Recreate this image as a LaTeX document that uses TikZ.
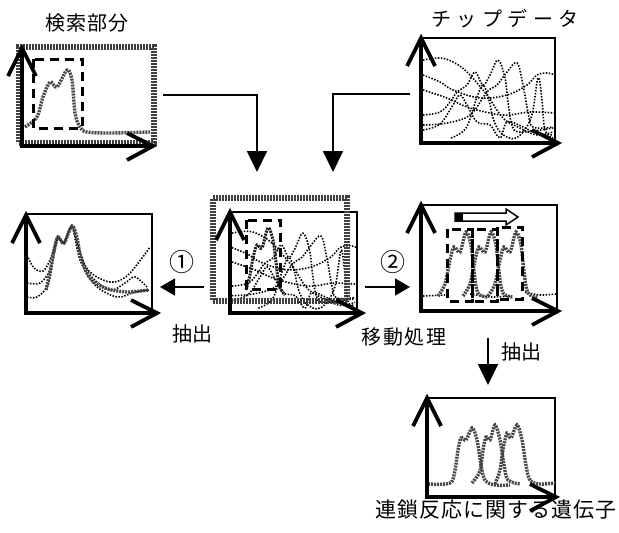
\documentclass[tikz,border=0pt]{standalone}
\usepackage{fontspec}
\setmainfont{Noto Sans CJK JP}
\usetikzlibrary{arrows.meta}
\tikzset{
 frame/.style={draw=black, line width=2.2pt, inner sep=0pt, outer sep=0pt},
 grayframe/.style={draw=black!75, line width=6pt, dash pattern=on 2pt off 1pt, inner sep=0pt, outer sep=0pt},
 axisline/.style={line width=3.8pt, black},
 thickcurve/.style={draw=black!72, line width=3.4pt, dash pattern=on 2pt off 1pt},
 darkcurve/.style={draw=black!90, line width=3pt, dash pattern=on 2pt off 1pt},
 thindot/.style={draw=black, line width=1.6pt, dash pattern=on 1.5pt off 1.5pt},
 dashbox/.style={draw=black, line width=3pt, dash pattern=on 9pt off 6pt},
 conn/.style={draw=black, line width=1.8pt, -{Triangle[length=21pt,width=20pt]}},
 conns/.style={draw=black, line width=1.8pt, -{Triangle[length=15pt,width=17pt]}},
 lbl/.style={inner sep=0pt, font=\fontsize{20}{24}\selectfont},
 circ/.style={inner sep=0pt, font=\fontsize{25}{28}\selectfont},
}
\newcommand\axesxy[4]{%
 \draw[axisline] (#1,#3)--(#1,#2)--(#4,#2);
 \draw[axisline] (#1-14,#3+28)--(#1,#3)--(#1+14,#3+28);
 \draw[axisline] (#4-26,#2-13)--(#4,#2)--(#4-26,#2+14);}
\newcommand\chipcurves{%
 \draw[thindot] plot[smooth,tension=0.6] coordinates {(2,22)(19,20)(32,24)(46,34)(66,57)(82,80)(99,90)(116,97)(132,94)};
 \draw[thindot] plot[smooth,tension=0.6] coordinates {(2,37)(19,44)(32,52)(59,60)(86,57)(106,47)(116,37)(126,35)(134,37)};
 \draw[thindot] plot[smooth,tension=0.6] coordinates {(2,52)(26,60)(49,70)(82,77)(109,74)(134,75)};
 \draw[thindot] plot[smooth,tension=0.6] coordinates {(2,77)(19,74)(29,64)(36,54)(46,47)(54,34)(62,47)(69,37)(77,22)(84,40)(87,64)(91,87)(99,94)(132,90)};
 \draw[thindot] plot[smooth,tension=0.6] coordinates {(2,87)(26,85)(49,77)(66,54)(76,47)(86,34)(96,25)(102,47)(107,74)(112,89)(132,89)};
 \draw[thindot] plot[smooth,tension=0.6] coordinates {(2,92)(19,86)(32,67)(39,57)(46,67)(56,84)(69,87)(79,100)(86,84)(100,88)(115,95)(132,97)};
 \draw[thindot] plot[smooth,tension=0.6] coordinates {(30,100)(45,90)(55,62)(62,47)(68,62)(72,80)(80,95)(95,100)(110,80)(117,40)(121,62)(124,92)(132,100)};
}
\begin{document}
\begin{tikzpicture}[x=1pt,y=-1pt]
\useasboundingbox (0,0) rectangle (619,533);

% ---------- panel 1: search part ----------
\node[grayframe, minimum width=135pt, minimum height=96pt] (p1) at (86.5,95) {};
\draw[thickcurve] plot[smooth,tension=0.55] coordinates {(25,127)(37,117)(43,97)(50,82)(57,87)(67,70)(72,80)(75,113)(80,127)(87,132)(110,133)(150,132)};
\draw[dashbox] (33,59) rectangle (82,128);
\axesxy{22}{146}{48}{153}
\node[lbl] (l1) at (87,23) {\addfontfeature{LetterSpace=4}検索部分};

% ---------- panel 2: chip data ----------
\node[frame, minimum width=134pt, minimum height=105pt] (p2) at (488,90.5) {};
\begin{scope}[shift={(421,38)}]
 \chipcurves
\end{scope}
\axesxy{421}{143}{38}{558}
\node[lbl] (l2) at (505,19) {\addfontfeature{LetterSpace=28}チップデータ};

% ---------- panel 3: center ----------
\node[frame, minimum width=127pt, minimum height=101pt] (p3) at (293.5,262.5) {};
\begin{scope}[shift={(230,212)}, xscale=0.948, yscale=0.962]
 \chipcurves
\end{scope}
\draw[darkcurve] plot[smooth,tension=0.55] coordinates {(246,290)(250,275)(253,258)(257,245)(262,248)(268,228)(273,240)(276,262)(279,285)(285,295)};
\draw[dashbox] (246,220) rectangle (280,289);
\node[grayframe, minimum width=134pt, minimum height=103pt] (p3g) at (280,249.5) {};
\axesxy{230}{313}{212}{362}

% ---------- panel 4: left extraction ----------
\node[frame, minimum width=126pt, minimum height=99pt] (p4) at (89,263.5) {};
\draw[thindot] plot[smooth,tension=0.55] coordinates {(27,255)(34,268)(43,271)(50,260)(55,245)(58,237)(64,243)(72,226)(78,245)(88,270)(110,282)(128,275)(150,247)};
\draw[thindot] plot[smooth,tension=0.55] coordinates {(27,283)(40,283)(50,270)(56,245)(58,237)(64,243)(72,226)(78,250)(90,275)(110,290)(125,283)(135,277)(147,287)};
\draw[thindot] plot[smooth,tension=0.55] coordinates {(27,297)(37,297)(48,285)(54,255)(58,238)(64,243)(72,227)(80,260)(95,285)(117,297)(135,292)(150,290)};
\draw[thickcurve] plot[smooth,tension=0.55] coordinates {(46,290)(50,272)(54,250)(58,237)(64,243)(72,226)(77,238)(81,258)(90,278)(105,288)(127,292)(148,290)};
\axesxy{26}{313}{215}{157}

% ---------- panel 5: shifted ----------
\node[frame, minimum width=136pt, minimum height=106pt] (p5) at (489,258) {};
\draw[thindot] (423,296) -- (445,295);
\draw[thindot] plot[smooth,tension=0.55] coordinates {(470,294)(490,297)(510,296)};
\draw[thindot] plot[smooth,tension=0.55] coordinates {(525,292)(540,295)(556,294)};
\foreach \dx in {420,445,470}{
 \draw[thickcurve] plot[smooth,tension=0.55] coordinates {(\dx+18,296)(\dx+25,284)(\dx+30,260)(\dx+34,247)(\dx+40,252)(\dx+46,232)(\dx+51,245)(\dx+54,272)(\dx+58,293)(\dx+68,297)};
}
\draw[dashbox] (447,229) rectangle (472,301);
\draw[dashbox] (472,229) rectangle (497,301);
\draw[dashbox] (497,227) rectangle (522,299);
\draw[black, line width=1.5pt, fill=white] (455,213)--(506,213)--(506,209)--(518,217)--(506,225)--(506,221)--(455,221)--cycle;
\fill[black] (455,213) rectangle (463,221);
\axesxy{421}{311}{205}{558}

% ---------- panel 6: result ----------
\node[frame, minimum width=128pt, minimum height=99pt] (p6) at (491,447.5) {};
\draw[thickcurve] plot[smooth,tension=0.55] coordinates {(428,484)(450,483)(455,470)(458,450)(461,438)(466,440)(472,428)(477,440)(481,465)(485,480)(495,485)(510,485)};
\draw[thickcurve] plot[smooth,tension=0.55] coordinates {(472,483)(480,471)(483,450)(486,437)(490,440)(495,425)(500,440)(504,465)(508,480)(520,484)};
\draw[thickcurve] plot[smooth,tension=0.55] coordinates {(495,484)(500,470)(503,450)(507,433)(511,438)(517,425)(522,440)(526,465)(530,480)(540,484)(555,483)};
\axesxy{427}{497}{398}{556}

% ---------- connectors ----------
\coordinate (c1) at (257,172);
\coordinate (s2) at (410,94);
\coordinate (c2) at (333,172);
\coordinate (s3) at (204,287);
\coordinate (e3) at (160,287);
\coordinate (s4) at (365,287);
\coordinate (e4) at (410,287);
\coordinate (s5) at (488,338);
\coordinate (e5) at (488,385);
\draw[conn] ([xshift=9pt]p1.east) -| (c1);
\draw[conn] (s2) -| (c2);
\draw[conns] (s3) -- (e3);
\draw[conns] (s4) -- (e4);
\draw[conn] (s5) -- (e5);

% ---------- labels ----------
\node[circ] (n1) at (182,262) {①};
\node[circ] (n2) at (393,262) {②};
\node[lbl] (l3) at (192,334) {抽出};
\node[lbl] (l4) at (404,337) {\addfontfeature{LetterSpace=8}移動処理};
\node[lbl] (l5) at (521,352) {抽出};
\node[lbl, font=\fontsize{21}{24}\selectfont] (l6) at (496,510) {\addfontfeature{LetterSpace=5}連鎖反応に関する遺伝子};
\end{tikzpicture}
\end{document}
